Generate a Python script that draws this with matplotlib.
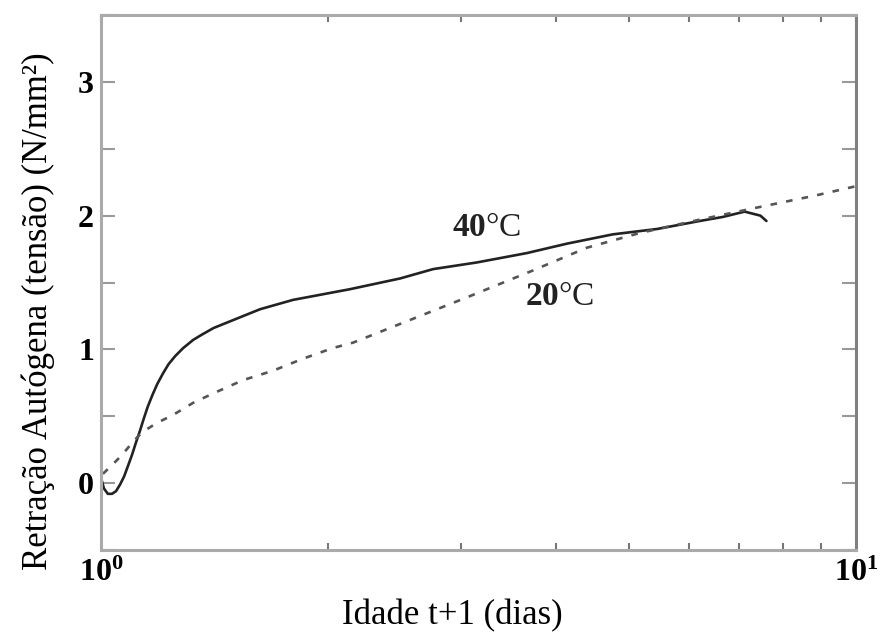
import numpy as np
import matplotlib
matplotlib.use("Agg")
import matplotlib.pyplot as plt
from matplotlib.ticker import MultipleLocator, LogLocator

plt.rcParams["mathtext.fontset"] = "custom"
plt.rcParams["mathtext.bf"] = "Liberation Serif:bold"
plt.rcParams["mathtext.rm"] = "Liberation Serif"

# 40 C curve (solid), age t+1 in days vs autogenous shrinkage stress
t_40 = [1.000, 1.009, 1.021, 1.034, 1.047, 1.060, 1.073, 1.086, 1.099, 1.112,
        1.126, 1.139, 1.153, 1.170, 1.187, 1.208, 1.229, 1.254, 1.285, 1.324,
        1.360, 1.410, 1.468, 1.624, 1.796, 2.137, 2.489, 2.753, 3.147, 3.665,
        4.138, 4.764, 5.45, 6.21, 6.66, 7.12, 7.47, 7.61]
s_40 = [0.04, -0.04, -0.08, -0.08, -0.06, -0.01, 0.05, 0.13, 0.21, 0.30,
        0.39, 0.48, 0.57, 0.66, 0.74, 0.82, 0.89, 0.95, 1.01, 1.07,
        1.11, 1.16, 1.20, 1.30, 1.37, 1.45, 1.53, 1.60, 1.65, 1.72,
        1.79, 1.86, 1.90, 1.96, 1.99, 2.03, 2.00, 1.96]

# 20 C curve (dotted)
t_20 = [1.006, 1.028, 1.066, 1.099, 1.133, 1.186, 1.246, 1.324, 1.407, 1.542,
        1.689, 1.851, 2.028, 2.156, 2.489, 3.056, 3.733, 4.40, 5.17, 6.21,
        7.39, 8.83, 10.0]
s_20 = [0.07, 0.12, 0.21, 0.30, 0.38, 0.45, 0.51, 0.60, 0.67, 0.77,
        0.84, 0.93, 1.01, 1.05, 1.19, 1.39, 1.59, 1.76, 1.87, 1.97,
        2.06, 2.15, 2.22]

y_major = [0, 1, 2, 3]
y_labels = ["0", "1", "2", "3"]
x_labels = [r"$\mathbf{10^0}$", r"$\mathbf{10^1}$"]

fig = plt.figure(figsize=(8.85, 6.36), dpi=100)
ax = fig.add_axes([101 / 885, 1 - 550 / 636, 755 / 885, 535 / 636])

ax.plot(t_40, s_40, color="#222222", lw=1.9, solid_capstyle="round")
ax.plot(t_20, s_20, color="#555555", lw=1.9, linestyle=(0, (2.5, 3.5)))

ax.set_xscale("log")
ax.set_xlim(1, 10)
ax.set_ylim(-0.5, 3.5)

serif = ["Liberation Serif", "DejaVu Serif"]

ax.set_yticks(y_major)
ax.set_yticklabels(y_labels, fontfamily=serif, fontweight="bold", fontsize=23)
ax.yaxis.set_minor_locator(MultipleLocator(0.5))
ax.set_xticks([1, 10])
ax.set_xticklabels(x_labels, fontsize=23)
ax.xaxis.set_minor_locator(LogLocator(base=10, subs=np.arange(2, 10)))
ax.xaxis.set_minor_formatter(plt.NullFormatter())

ax.tick_params(axis="y", which="both", direction="in", length=10, width=1.5,
               color="#999999", right=True, pad=5)
ax.tick_params(axis="x", which="both", direction="in", length=5, width=1.5,
               color="#777777", top=True, pad=5)

for side in ["left", "bottom", "top"]:
    ax.spines[side].set_color("#aaaaaa")
    ax.spines[side].set_linewidth(2.2)
ax.spines["right"].set_color("#808080")
ax.spines["right"].set_linewidth(2.2)

ax.text(3.24, 1.91, r"$\mathbf{40}$°C", fontfamily=serif, fontsize=24,
        ha="center", va="center", color="#222222")
ax.text(4.05, 1.39, r"$\mathbf{20}$°C", fontfamily=serif, fontsize=24,
        ha="center", va="center", color="#222222")

fig.text(452 / 885, 1 - 616 / 636, "Idade t+1 (dias)", fontfamily=serif,
         fontsize=25, ha="center", va="center")
fig.text(38 / 885, 0.51, "Retração Autógena (tensão) (N/mm²)", fontfamily=serif,
         fontsize=25, rotation=90, ha="center", va="center")

fig.savefig("out.png", dpi=100, facecolor="white")
